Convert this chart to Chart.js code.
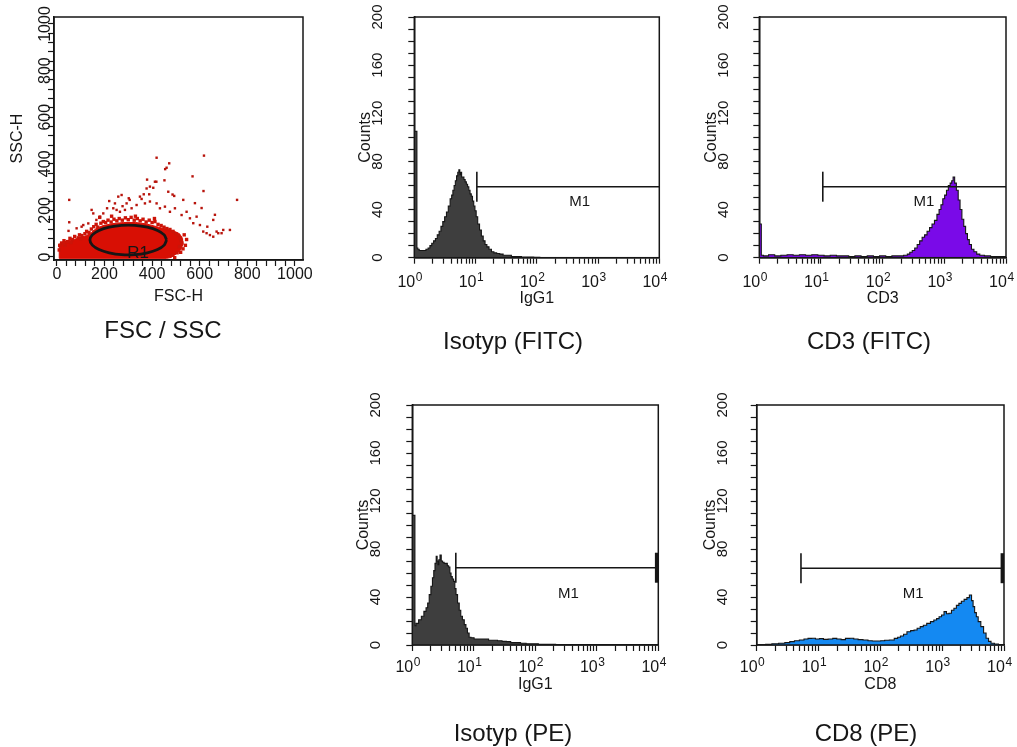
<!DOCTYPE html>
<html><head><meta charset="utf-8">
<script src="https://cdn.jsdelivr.net/npm/chart.js@4.4.1/dist/chart.umd.min.js"></script>
<style>
html,body{margin:0;padding:0;background:#fff;overflow:hidden;width:1017px;height:747px;position:relative;}
canvas{position:absolute;left:-40px;top:-40px;}
.ttl{position:absolute;transform:translate(-50%,-50%);font-family:"Liberation Sans",Arial,Helvetica,sans-serif;font-size:24px;color:#161616;white-space:nowrap;line-height:1;}
</style></head><body>
<canvas id="c1" width="1140" height="840"></canvas>
<canvas id="c2" width="1140" height="840"></canvas>
<canvas id="c3" width="1140" height="840"></canvas>
<canvas id="c4" width="1140" height="840"></canvas>
<canvas id="c5" width="1140" height="840"></canvas>
<div class="ttl" id="t1" style="left:163px;top:330px"></div>
<div class="ttl" id="t2" style="left:513px;top:341px"></div>
<div class="ttl" id="t3" style="left:869px;top:341px"></div>
<div class="ttl" id="t4" style="left:513px;top:733px"></div>
<div class="ttl" id="t5" style="left:866px;top:733px"></div>
<script>
// ---------------- DATA ----------------
const panelTitles = ['FSC / SSC', 'Isotyp (FITC)', 'CD3 (FITC)', 'Isotyp (PE)', 'CD8 (PE)'];
const xTitles = ['FSC-H', 'IgG1', 'CD3', 'IgG1', 'CD8'];
const yTitles = ['SSC-H', 'Counts', 'Counts', 'Counts', 'Counts'];

// scatter FSC/SSC
const scatterTicks = [0,40,80,120,160,200,240,280,320,360,400,440,480,520,560,600,640,680,720,760,800,840,880,920,960,1000];
const scatterTickLabels = [0,200,400,600,800,1000];
const denseCore = [[10,-6],[10,55],[30,65],[60,72],[95,82],[125,92],[145,105],[165,122],[195,135],[235,143],[280,148],[330,148],[375,142],[420,130],[455,120],[490,112],[515,100],[528,80],[530,55],[520,30],[500,12],[480,-2],[460,-6],[10,-6]];
const fringePoints = [[20,60],[30,70],[45,66],[55,80],[65,75],[75,88],[90,82],[95,95],[105,92],[118,100],
[125,110],[135,105],[145,120],[155,130],[165,140],[172,128],[185,145],[195,152],[205,148],[215,158],
[228,150],[240,162],[252,155],[262,165],[275,158],[288,168],[300,160],[312,170],[325,158],[338,165],
[350,155],[362,162],[375,150],[388,158],[400,148],[412,152],[425,140],[438,135],[450,128],[462,122],
[475,118],[488,110],[500,100],[510,92],[518,80],[522,70],[515,45],[525,60],[530,35],[505,18],
[520,20],[485,8],[35,50],[28,58],[12,50],[10,30],[60,62],[100,78],[140,88],[178,108],
[200,128],[160,108],[540,50],[545,75],[535,95],[495,-3],[180,170],[230,175],[330,175],[410,165]];
const sparsePoints = [[419,426],[618,435],[472,402],[461,383],[455,377],[570,346],[379,332],[452,329],[412,323],[418,323],
[616,283],[52,245],[757,245],[391,302],[377,294],[405,297],[468,280],[486,268],[493,262],[531,245],
[580,231],[608,210],[664,181],[657,159],[699,116],[727,116],[678,102],[632,130],[272,266],[258,259],
[302,252],[306,245],[349,259],[356,249],[365,269],[388,269],[293,230],[276,218],[244,230],[220,240],
[237,209],[251,202],[265,194],[286,202],[314,209],[335,223],[370,230],[391,238],[419,230],[433,209],
[454,216],[475,194],[496,209],[524,180],[545,194],[559,166],[587,173],[573,145],[601,137],[615,109],
[629,102],[643,94],[657,87],[671,109],[692,102],[52,149],[49,112],[83,123],[111,137],[146,202],
[153,187],[181,173],[195,187],[211,209],[166,159],[132,144],[104,130]];
const gateR1 = [[461,73],[451,95],[423,114],[380,128],[328,136],[272,136],[220,128],[177,114],[149,95],[139,73],[149,51],[177,32],[220,18],[272,10],[328,10],[380,18],[423,32],[451,51],[461,73]];
const gateLabel = ['R1', 341, 15];

// histograms
const countTicks = [0,10,20,30,40,50,60,70,80,90,100,110,120,130,140,150,160,170,180,190,200];
const countTickLabels = [0,40,80,120,160,200];
const logTicks = [1,2,3,4,5,6,7,8,9,10,20,30,40,50,60,70,80,90,100,200,300,400,500,600,700,800,900,1000,2000,3000,4000,5000,6000,7000,8000,9000,10000];
const decadeValues = [1,10,100,1000,10000];
const decadeBase = '10';
const decadeExponents = ['0','1','2','3','4'];

// channel position in decades (log10) and counts
const isoFitcLog = [0,0.04,0.045,0.07,0.09,0.13,0.17,0.21,0.24,0.27,0.30,0.33,0.36,0.39,0.42,0.45,0.48,0.51,0.54,0.57,0.60,0.62,0.64,0.66,0.68,0.70,0.72,0.735,0.75,0.765,0.78,0.80,0.82,0.84,0.86,0.88,0.90,0.92,0.94,0.96,0.98,1.00,1.02,1.05,1.08,1.11,1.14,1.17,1.20,1.24,1.28,1.32,1.37,1.42,1.48,1.55,1.62,1.70,1.80,1.90,2.00,2.10,3.00,4.00];
const isoFitcCounts = [105,105,8,7,6,6,6,7,8,10,12,14,16,19,22,26,30,34,38,43,49,52,56,60,64,68,71,73,69,71,67,67,65,63,61,59,56,53,51,47,43,39,34,28,23,18,14,11,9,7,5,4,3.5,3,2,2,1,1,0.5,0.5,0.3,0,0,0];

const cd3Log = [0,0.03,0.035,0.1,0.2,0.3,0.4,0.5,0.6,0.7,0.8,0.9,1.0,1.1,1.2,1.3,1.4,1.5,1.6,1.7,1.8,1.9,2.0,2.1,2.2,2.3,2.38,2.42,2.46,2.50,2.54,2.58,2.62,2.66,2.70,2.74,2.78,2.82,2.86,2.90,2.93,2.96,2.99,3.02,3.05,3.08,3.11,3.13,3.155,3.18,3.21,3.24,3.27,3.30,3.33,3.36,3.39,3.42,3.46,3.50,3.55,3.60,3.70,3.80,3.90,4.00];
const cd3Counts = [28,28,2,1.5,2.5,1.5,2,2.5,2,2.5,2,2.5,2,1.5,2,1.5,1.5,1,1.5,1,1.5,1,1.5,1,1.5,1.5,2,3,4.5,6,8,11,14,17,19,22,25,28,31,36,40,44,49,52,56,60,62,64,67,62,56,48,40,32,26,20,15,11,7,5,3,2,1.5,1,1,1];

const isoPeLog = [0,0.04,0.045,0.08,0.125,0.17,0.207,0.24,0.26,0.29,0.315,0.34,0.358,0.38,0.397,0.41,0.423,0.44,0.461,0.48,0.504,0.53,0.559,0.58,0.602,0.62,0.64,0.66,0.683,0.70,0.722,0.75,0.776,0.80,0.83,0.86,0.884,0.91,0.938,0.97,1.04,1.1,1.2,1.28,1.35,1.42,1.5,1.56,1.64,1.72,1.8,1.9,2.0,2.1,2.26,2.4,4.0];
const isoPeCounts = [108,108,16,18,21,24,28,31,35,42,49,56,62,68,74,70,67,71,75,70,69,68,68,66,65,60,57,55,53,47,42,35,29,24,21,17,14,10,6.5,6,5,5,5,4,4,3.5,3,2.8,2,2,1.5,1,1,0.5,0.5,0,0];

const cd8Log = [0,0.1,0.19,0.3,0.41,0.5,0.57,0.65,0.73,0.8,0.86,0.92,0.98,1.05,1.11,1.2,1.26,1.33,1.4,1.47,1.54,1.6,1.68,1.76,1.84,1.9,1.97,2.04,2.1,2.19,2.26,2.3,2.35,2.4,2.46,2.52,2.57,2.62,2.67,2.72,2.78,2.84,2.89,2.93,2.97,3.01,3.05,3.09,3.13,3.17,3.21,3.25,3.29,3.33,3.38,3.42,3.46,3.49,3.51,3.54,3.565,3.6,3.65,3.69,3.73,3.77,3.81,3.88,3.94,4.0];
const cd8Counts = [0,0.3,0.5,1,1.4,2,2.8,3.5,4.2,5,5.5,5.6,5,5.3,4.7,5,5.5,5,4.5,5.5,5.6,5,4.5,4.2,3.5,3.3,3.3,3.5,4,4.2,5.5,6.5,7.5,9,11,12,12.5,14,15.3,16.5,18,19.5,20.8,22,23.6,25,27.8,26,26.4,29,30.6,33,34.7,36.5,38,39.5,41.7,37,32,27,23.6,19.5,15.3,10,5.6,3,1.4,0.8,0.3,0];

// M1 markers: [start, end, level], label at [x, y]
const m1IsoFitc = [10.5, 10000, 59];   const m1IsoFitcLabel = [500, 46];
const m1Cd3 = [10.7, 10000, 59];       const m1Cd3Label = [468, 46];
const m1IsoPe = [5.1, 9400, 64.4];     const m1IsoPeLabel = [345, 42.5];
const m1Cd8 = [5.2, 9400, 64];         const m1Cd8Label = [341, 42.5];

// ---------------- DRAWING ----------------
const OFF = 40, CW = 1140, CH = 840;
const FONT = '"Liberation Sans", Arial, Helvetica, sans-serif';
const INK = '#161616';
const SPACER = '\u2003';

panelTitles.forEach((t, i) => { document.getElementById('t' + (i + 1)).textContent = t; });

const framePlugin = { id: 'frame', afterDraw(chart) {
  const { ctx, chartArea: a } = chart;
  ctx.save(); ctx.strokeStyle = INK; ctx.lineWidth = 1.5;
  ctx.strokeRect(a.left, a.top, a.right - a.left, a.bottom - a.top);
  ctx.restore();
}};
function makeNotes(items) {
  return { id: 'notes', afterDatasetsDraw(chart) {
    const ctx = chart.ctx;
    items.forEach(it => {
      const x = chart.scales.x.getPixelForValue(it.x);
      const y = chart.scales.y.getPixelForValue(it.y);
      ctx.save(); ctx.font = it.size + 'px ' + FONT; ctx.fillStyle = INK;
      ctx.textAlign = 'center'; ctx.textBaseline = 'middle';
      ctx.fillText(it.text, x, y); ctx.restore();
    });
  }};
}
// superscript exponents for the decade labels of the log axes
const expoPlugin = { id: 'expo', afterDraw(chart) {
  const s = chart.scales.x, ctx = chart.ctx;
  const fs = s.options.ticks.font.size;
  ctx.save();
  ctx.font = fs + 'px ' + FONT;
  const wBase = ctx.measureText(decadeBase).width;
  const wAll = ctx.measureText(decadeBase + SPACER).width;
  const top = s.top + s.options.grid.tickLength + s.options.ticks.padding;
  ctx.font = '12px ' + FONT; ctx.fillStyle = INK; ctx.textAlign = 'left'; ctx.textBaseline = 'alphabetic';
  decadeValues.forEach((v, i) => {
    const x = s.getPixelForValue(v);
    ctx.fillText(decadeExponents[i], x - wAll / 2 + wBase + 0.5, top + 8);
  });
  ctx.restore();
}};

function yAxis(min, max, tickVals, labelVals, title, fs, pad, titleSize) {
  return { type: 'linear', position: 'left', min, max,
    afterBuildTicks: s => { s.ticks = tickVals.map(v => ({ value: v })); },
    ticks: { autoSkip: false, minRotation: 90, maxRotation: 90, crossAlign: 'center', padding: pad,
      color: INK, font: { family: FONT, size: fs },
      callback: v => labelVals.includes(v) ? String(v) : '' },
    grid: { drawOnChartArea: false, drawTicks: true, tickLength: 6, tickColor: INK, tickWidth: 1.2 },
    border: { display: true, color: INK, width: 1.5 },
    title: { display: true, text: title, color: INK, font: { family: FONT, size: titleSize }, padding: 0 } };
}
function xAxis(type, min, max, tickVals, labelFn, title, fs, pad) {
  return { type, position: 'bottom', min, max,
    afterBuildTicks: s => { s.ticks = tickVals.map(v => ({ value: v })); },
    ticks: { autoSkip: false, minRotation: 0, maxRotation: 0, padding: pad,
      color: INK, font: { family: FONT, size: fs }, callback: labelFn },
    grid: { drawOnChartArea: false, drawTicks: true, tickLength: 6, tickColor: INK, tickWidth: 1.2 },
    border: { display: true, color: INK, width: 1.5 },
    title: { display: true, text: title, color: INK, font: { family: FONT, size: 16 }, padding: 0 } };
}

function makeChart(id, frame, yW, xH, scales, datasets, notes, extra) {
  const padding = { left: frame.L + OFF - yW, right: CW - (frame.R + OFF), top: frame.T + OFF, bottom: CH - xH - (frame.B + OFF) };
  scales.y.afterFit = s => { s.width = yW; };
  scales.x.afterFit = s => { s.height = xH; };
  const plugins = [framePlugin, makeNotes(notes)];
  if (extra) plugins.push(extra);
  return new Chart(document.getElementById(id), {
    type: 'scatter', data: { datasets },
    options: { responsive: false, animation: false, events: [], layout: { padding },
      plugins: { legend: { display: false }, tooltip: { enabled: false } }, scales },
    plugins });
}

const pts = arr => arr.map(([x, y]) => ({ x, y }));
const histPts = (logs, counts) => logs.map((d, i) => ({ x: Math.pow(10, d), y: counts[i] }));
const decadeLabel = v => decadeValues.includes(v) ? decadeBase + SPACER : '';

// Panel 1: scatter
makeChart('c1', { L: 54, R: 303, T: 17, B: 260 }, 45.6, 46.6, {
  x: xAxis('linear', -12, 1034, scatterTicks, v => scatterTickLabels.includes(v) ? String(v) : '', xTitles[0], 16, -1),
  y: yAxis(-13, 1030, scatterTicks, scatterTickLabels, yTitles[0], 16, -15.8, 16)
}, [
  { type: 'line', data: pts(gateR1), borderColor: INK, borderWidth: 2.8, fill: false, pointRadius: 0, tension: 0.25, order: 1 },
  { type: 'scatter', data: pts(sparsePoints), pointStyle: 'rect', pointRadius: 1.7, backgroundColor: '#b8140c', borderWidth: 0, order: 2 },
  { type: 'scatter', data: pts(fringePoints), pointStyle: 'rect', pointRadius: 2.4, backgroundColor: '#cc1408', borderWidth: 0, order: 3 },
  { type: 'line', data: pts(denseCore), fill: 'shape', backgroundColor: '#d80f04', borderColor: '#d80f04', borderWidth: 1, pointRadius: 0, order: 4 }
], [{ text: gateLabel[0], x: gateLabel[1], y: gateLabel[2], size: 17 }]);

// histogram panels; titleCX / tickCX = centre of the rotated y title / tick labels
function histPanel(id, frame, titleCX, tickCX, xH, xPad, logs, counts, fillColor, m1, m1Label, endR, endW, xTitle) {
  const yW = frame.L - (titleCX - 9.6);
  const yPad = frame.L - 6 - 12.5 - tickCX;
  makeChart(id, frame, yW, xH, {
    x: xAxis('logarithmic', 1, 10000, logTicks, decadeLabel, xTitle, 16, xPad),
    y: yAxis(0, 200, countTicks, countTickLabels, 'Counts', 15, yPad, 16)
  }, [
    { type: 'line', data: [{ x: m1[0], y: m1[2] }, { x: m1[1], y: m1[2] }], borderColor: INK, borderWidth: 1.5, fill: false,
      pointStyle: 'line', pointRotation: 90, pointRadius: [15, endR], pointBorderWidth: [1.6, endW], pointBorderColor: INK, clip: false, order: 1 },
    { type: 'line', data: histPts(logs, counts), stepped: 'middle', borderColor: INK, borderWidth: 1.1, backgroundColor: fillColor, fill: 'origin', pointRadius: 0, order: 2 }
  ], [{ text: 'M1', x: m1Label[0], y: m1Label[1], size: 15 }], expoPlugin);
}

histPanel('c2', { L: 414.3, R: 659.3, T: 17, B: 257.7 }, 366, 378, 50.5, 9.5, isoFitcLog, isoFitcCounts, '#3e3e3e', m1IsoFitc, m1IsoFitcLabel, 0, 0, xTitles[1]);
histPanel('c3', { L: 759.3, R: 1006, T: 17, B: 257.7 }, 711.5, 723.5, 50.5, 9.5, cd3Log, cd3Counts, '#7a0ae8', m1Cd3, m1Cd3Label, 0, 0, xTitles[2]);
histPanel('c4', { L: 412.3, R: 658.3, T: 405, B: 645 }, 364, 376, 49, 7, isoPeLog, isoPeCounts, '#3e3e3e', m1IsoPe, m1IsoPeLabel, 15, 3.5, xTitles[3]);
histPanel('c5', { L: 756.7, R: 1004, T: 405, B: 645 }, 710.5, 722.5, 49, 7, cd8Log, cd8Counts, '#1489f2', m1Cd8, m1Cd8Label, 15, 3.5, xTitles[4]);
</script>
</body></html>
